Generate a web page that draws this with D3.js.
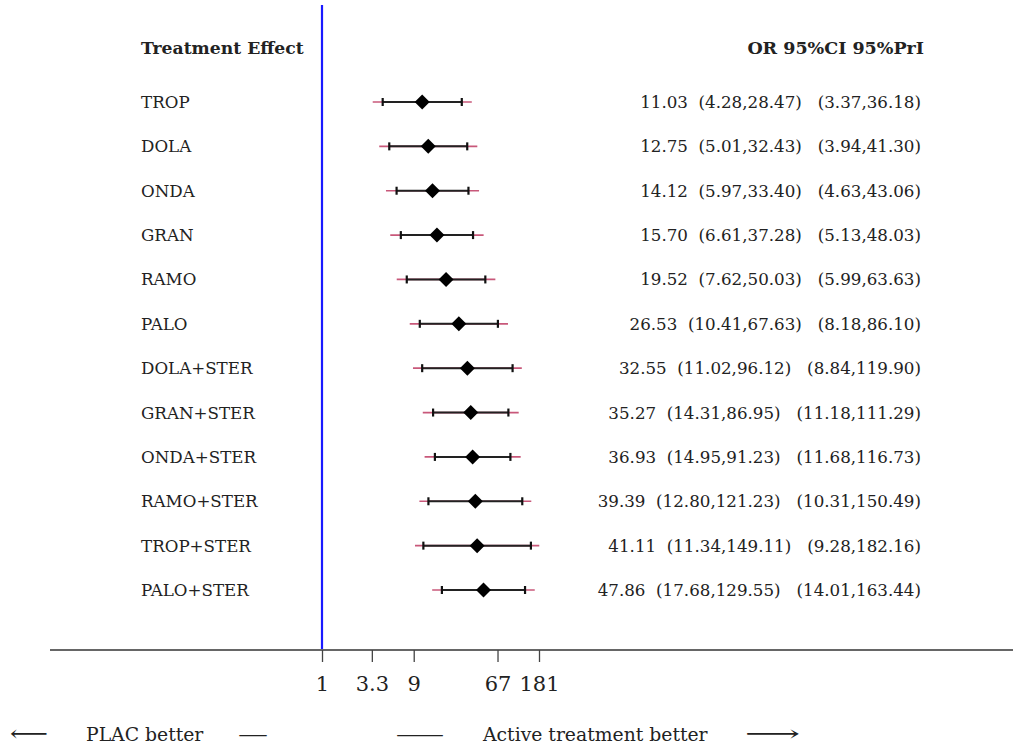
<!DOCTYPE html>
<html>
<head>
<meta charset="utf-8">
<script src="https://cdn.jsdelivr.net/npm/d3@7"></script>
<style>
  html, body { margin: 0; padding: 0; background: #fff; }
  svg { display: block; }
  text { font-family: "DejaVu Serif", "Liberation Serif", serif; fill: #222; }
</style>
</head>
<body>
<svg id="chart" width="1013" height="751"></svg>
<script>
// Treatments compared against placebo
const treatments = ["TROP", "DOLA", "ONDA", "GRAN", "RAMO", "PALO",
  "DOLA+STER", "GRAN+STER", "ONDA+STER", "RAMO+STER", "TROP+STER", "PALO+STER"];
// Odds ratios
const oddsRatio = [11.03, 12.75, 14.12, 15.70, 19.52, 26.53, 32.55, 35.27, 36.93, 39.39, 41.11, 47.86];
// 95% confidence intervals
const ciLow  = [4.28, 5.01, 5.97, 6.61, 7.62, 10.41, 11.02, 14.31, 14.95, 12.80, 11.34, 17.68];
const ciHigh = [28.47, 32.43, 33.40, 37.28, 50.03, 67.63, 96.12, 86.95, 91.23, 121.23, 149.11, 129.55];
// 95% prediction intervals
const priLow  = [3.37, 3.94, 4.63, 5.13, 5.99, 8.18, 8.84, 11.18, 11.68, 10.31, 9.28, 14.01];
const priHigh = [36.18, 41.30, 43.06, 48.03, 63.63, 86.10, 119.90, 111.29, 116.73, 150.49, 182.16, 163.44];
// Axis ticks
const tickValues = [1, 3.3, 9, 67, 181];
const tickLabels = ["1", "3.3", "9", "67", "181"];

const rows = treatments.map((t, i) => ({
  name: t, or: oddsRatio[i], lo: ciLow[i], hi: ciHigh[i], plo: priLow[i], phi: priHigh[i]
}));

const svg = d3.select("#chart");

const x = d3.scaleLog().domain([1, 181]).range([322, 539]);
const y = d3.scalePoint().domain(treatments).range([102, 590]);
const axisY = 650;

// Column headers
svg.append("text").attr("x", 141).attr("y", 54)
  .attr("font-size", 17.2).attr("font-weight", "bold").text("Treatment Effect");
svg.append("text").attr("x", 924).attr("y", 54).attr("text-anchor", "end")
  .attr("font-size", 17.5).attr("font-weight", "bold").text("OR 95%CI 95%PrI");

// Line of no effect
svg.append("line")
  .attr("x1", x(1)).attr("x2", x(1)).attr("y1", 5).attr("y2", axisY)
  .attr("stroke", "#1a1aff").attr("stroke-width", 2.2);

const g = svg.selectAll("g.row").data(rows).join("g")
  .attr("class", "row")
  .attr("transform", d => `translate(0,${y(d.name)})`);

// Treatment names
g.append("text").attr("x", 141).attr("y", 6)
  .attr("font-size", 16.7).text(d => d.name);

// Prediction interval
g.append("line")
  .attr("x1", d => x(d.plo)).attr("x2", d => x(d.phi))
  .attr("stroke", "#c8587a").attr("stroke-width", 1.7);

// Confidence interval
g.append("line")
  .attr("x1", d => x(d.lo)).attr("x2", d => x(d.hi))
  .attr("stroke", "#222").attr("stroke-width", 2);

// CI end caps
g.selectAll("line.cap").data(d => [d.lo, d.hi]).join("line")
  .attr("class", "cap")
  .attr("x1", v => x(v)).attr("x2", v => x(v))
  .attr("y1", -4).attr("y2", 4)
  .attr("stroke", "#111").attr("stroke-width", 2.2);

// Point estimate
g.append("path")
  .attr("d", d => {
    const cx = x(d.or), r = 7.5;
    return `M${cx - r},0L${cx},${-r}L${cx + r},0L${cx},${r}Z`;
  })
  .attr("fill", "#000");

// Numeric summary
g.append("text")
  .attr("x", 921).attr("y", 6).attr("text-anchor", "end")
  .attr("font-size", 16.7)
  .style("white-space", "pre")
  .text(d => `${d.or.toFixed(2)}  (${d.lo.toFixed(2)},${d.hi.toFixed(2)})   (${d.plo.toFixed(2)},${d.phi.toFixed(2)})`);

// Horizontal axis
svg.append("line")
  .attr("x1", 50).attr("x2", 1013).attr("y1", axisY).attr("y2", axisY)
  .attr("stroke", "#666").attr("stroke-width", 1.8);

const axis = d3.axisBottom(x)
  .tickValues(tickValues)
  .tickFormat((d, i) => tickLabels[i])
  .tickSize(12)
  .tickPadding(14);

const ax = svg.append("g").attr("transform", `translate(0,${axisY})`).call(axis);
ax.select(".domain").remove();
ax.selectAll(".tick line").attr("stroke", "#444").attr("stroke-width", 1.3);
ax.selectAll(".tick text")
  .attr("font-family", "\"DejaVu Serif\", \"Liberation Serif\", serif")
  .attr("font-size", 21).attr("fill", "#222");

// Direction labels
const bottomY = 741;
const glyph = (x0, len, size, s) => svg.append("text")
  .attr("x", x0).attr("y", bottomY).attr("font-size", size)
  .attr("textLength", len).attr("lengthAdjust", "spacingAndGlyphs").text(s);
glyph(10, 38, 22, "⟵");
svg.append("text").attr("x", 86).attr("y", bottomY).attr("font-size", 18.8).text("PLAC better");
glyph(238, 30, 19, "—");
glyph(395, 50, 19, "—");
svg.append("text").attr("x", 483).attr("y", bottomY).attr("font-size", 18.8).text("Active treatment better");
glyph(745, 55, 22, "⟶");
</script>
</body>
</html>
